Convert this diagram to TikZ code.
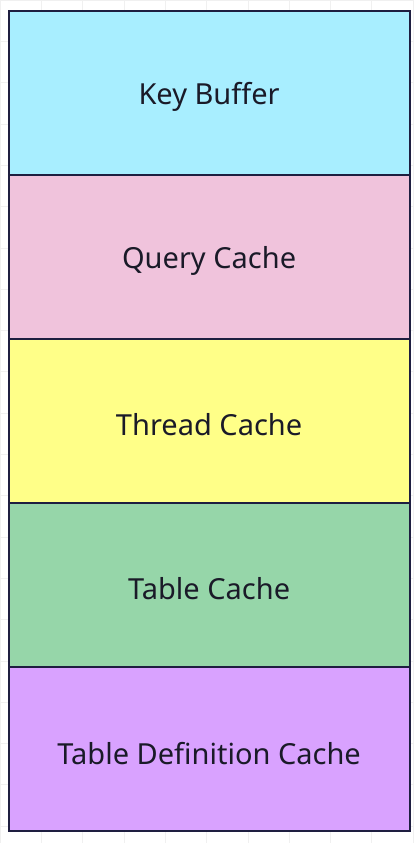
\documentclass[tikz,border=0pt]{standalone}
\usepackage{fontspec}
\setmainfont{Noto Sans}
\definecolor{edgec}{HTML}{1E1E40}
\definecolor{cKey}{HTML}{A8EEFF}
\definecolor{cQuery}{HTML}{F0C3DC}
\definecolor{cThread}{HTML}{FFFF88}
\definecolor{cTable}{HTML}{96D6A9}
\definecolor{cDef}{HTML}{D9A2FF}
\definecolor{gridc}{HTML}{F0F0F0}
\definecolor{textc}{HTML}{1A1A28}
\tikzset{
  layer/.style={draw=edgec, line width=2.2pt, minimum width=401pt, minimum height=164pt,
    inner sep=0pt, anchor=north west},
  label/.style={font=\fontsize{29}{34}\selectfont, text=textc, inner sep=0pt}
}
\begin{document}
\begin{tikzpicture}[x=1pt,y=-1pt]
\useasboundingbox (0,0) rectangle (413,843);
\fill[white] (0,0) rectangle (413,843);
\draw[gridc, line width=0.6pt] (0,0) grid[step=41.3pt] (413,843);
\node[layer, fill=cKey]    (key)    at (7.5,10)  {};
\node[layer, fill=cQuery]  (query)  at (7.5,174) {};
\node[layer, fill=cThread] (thread) at (7.5,338) {};
\node[layer, fill=cTable]  (table)  at (7.5,502) {};
\node[layer, fill=cDef]    (def)    at (7.5,666) {};
\node[label] (tkey)    at ([yshift=-4pt]key.center)    {Key Buffer};
\node[label] (tquery)  at ([yshift=-4pt]query.center)  {Query Cache};
\node[label] (tthread) at ([yshift=-4pt]thread.center) {Thread Cache};
\node[label] (ttable)  at ([yshift=-4pt]table.center)  {Table Cache};
\node[label] (tdef)    at ([yshift=-4pt]def.center)    {Table Definition Cache};
\end{tikzpicture}
\end{document}
